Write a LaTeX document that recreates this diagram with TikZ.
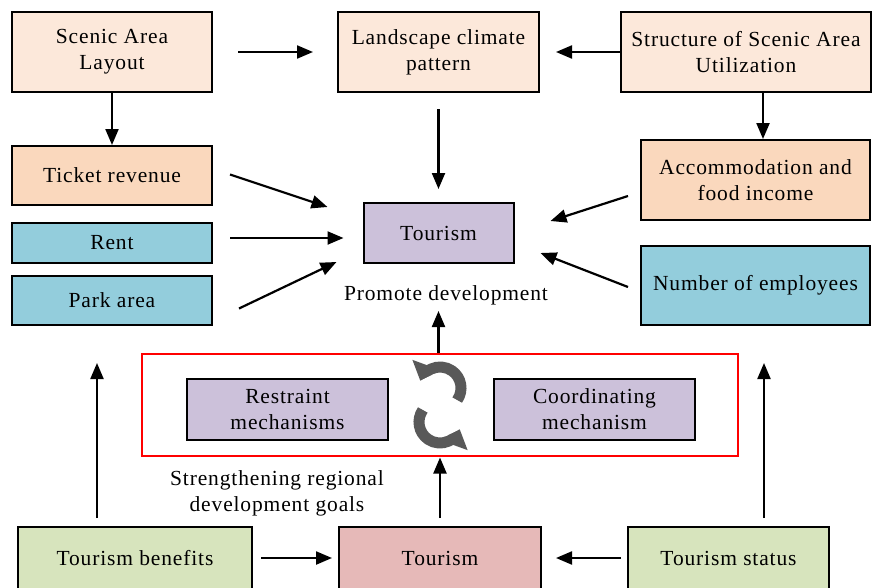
\documentclass[tikz,border=0pt]{standalone}
\usepackage{fontspec}
\setmainfont{Liberation Serif}[LetterSpace=4]
\usetikzlibrary{arrows.meta,positioning,calc}

\definecolor{peachlight}{HTML}{FCE8DA}
\definecolor{peach}{HTML}{FAD8BD}
\definecolor{bluebox}{HTML}{93CDDC}
\definecolor{lilac}{HTML}{CCC1DA}
\definecolor{sage}{HTML}{D7E4BD}
\definecolor{rose}{HTML}{E6B9B8}
\definecolor{turngrey}{HTML}{595959}

\tikzset{
  box/.style={draw, line width=2pt, align=center, inner sep=2pt,
    font=\fontsize{21.5}{26}\selectfont},
  label/.style={align=center, font=\fontsize{21.5}{26}\selectfont},
  arr/.style={-{Triangle[length=16pt,width=13pt]}, line width=2.2pt},
  turn/.style={-{Triangle[length=17pt,width=28pt]}, line width=11pt, turngrey},
}

\begin{document}
\begin{tikzpicture}[x=1pt, y=-1pt]

        \useasboundingbox (0,0) rectangle (872,587);

        % Top row
        \node (layout) [box, fill=peachlight, minimum width=200pt, minimum height=80pt] at (112,52) {Scenic Area\\Layout};
        \node (climate) [box, fill=peachlight, minimum width=201pt, minimum height=80pt] at (438.5,52) {Landscape climate\\pattern};
        \node (structure) [box, fill=peachlight, minimum width=250pt, minimum height=80pt] at (746,52) {Structure of Scenic Area\\Utilization};

        % Left column
        \node (ticket) [box, fill=peach, minimum width=200pt, minimum height=59pt] at (112,175.5) {Ticket revenue};
        \node (rent) [box, fill=bluebox, minimum width=200pt, minimum height=40pt] at (112,243) {Rent};
        \node (park) [box, fill=bluebox, minimum width=200pt, minimum height=49pt] at (112,300.5) {Park area};

        % Centre
        \node (tourismtop) [box, fill=lilac, minimum width=150pt, minimum height=60pt] at (438.5,233) {Tourism};
        \node (promote) [label] at (446,295) {Promote development};

        % Right column
        \node (accommodation) [box, fill=peach, minimum width=229pt, minimum height=80pt] at (755.5,180) {Accommodation and\\food income};
        \node (employees) [box, fill=bluebox, minimum width=229pt, minimum height=79pt] at (755.5,285.5) {Number of employees};

        % Mechanisms
        \node (frame) [draw=red, line width=2pt, minimum width=596pt, minimum height=102pt] at (440,404.5) {};
        \node (restraint) [box, fill=lilac, minimum width=201pt, minimum height=61pt] at (287.5,409.5) {Restraint\\mechanisms};
        \node (coordinating) [box, fill=lilac, minimum width=201pt, minimum height=61pt] at (594.5,409.5) {Coordinating\\mechanism};
        \node (goals) [label] at (277,493) {Strengthening regional\\development goals};

        % Bottom row
        \node (benefits) [box, fill=sage, minimum width=234pt, minimum height=62pt] at (135,558) {Tourism benefits};
        \node (tourismlow) [box, fill=rose, minimum width=202pt, minimum height=62pt] at (440,558) {Tourism};
        \node (status) [box, fill=sage, minimum width=201pt, minimum height=62pt] at (728.5,558) {Tourism status};

        % Top arrows
        \draw[arr, shorten <=25pt, shorten >=24pt] (layout) -- (climate);
        \draw[arr, shorten >=16pt] (structure) -- (climate);
        \draw[arr] (layout) -- (ticket);
        \draw[arr, shorten <=16pt, shorten >=13pt] (climate) -- (tourismtop);
        \draw[arr] ([xshift=17pt]structure.south) -- ([xshift=7.5pt]accommodation.north);

        % Arrows into tourism
        \draw[arr] ($(ticket.east)+(17,-1)$) -- ($(tourismtop.west)+(-35,-26)$);
        \draw[arr] ($(rent.east)+(17,-5)$) -- ($(tourismtop.west)+(-19,5)$);
        \draw[arr] ($(park.east)+(26,8)$) -- ($(tourismtop.west)+(-26,29)$);
        \draw[arr] ($(accommodation.west)+(-12,16)$) -- ($(tourismtop.east)+(36,-12)$);
        \draw[arr] ($(employees.west)+(-12,1.5)$) -- ($(tourismtop.east)+(26,20)$);
        \draw[arr, shorten >=47pt] (frame.north -| tourismtop) -- (tourismtop.south);

        % Turning arrows
        \coordinate (turnA) at (440,388);
        \coordinate (turnB) at (440,422);
        \draw[turn] ([shift={(35:21)}]turnA) arc[start angle=35, end angle=-160, radius=21];
        \draw[turn] ([shift={(-145:21)}]turnB) arc[start angle=-145, end angle=-340, radius=21];

        % Bottom arrows
        \draw[arr, shorten <=8pt, shorten >=37pt] ([xshift=-38pt]benefits.north) -- ([xshift=-15pt]park.south);
        \draw[arr, shorten <=8pt, shorten >=37pt] ([xshift=35.5pt]status.north) -- ([xshift=8.5pt]employees.south);
        \draw[arr, shorten <=8pt, shorten >=1pt] (tourismlow) -- (frame);
        \draw[arr, shorten <=8pt, shorten >=6pt] (benefits) -- (tourismlow);
        \draw[arr, shorten <=6pt, shorten >=14pt] (status) -- (tourismlow);

        \end{tikzpicture}
\end{document}
